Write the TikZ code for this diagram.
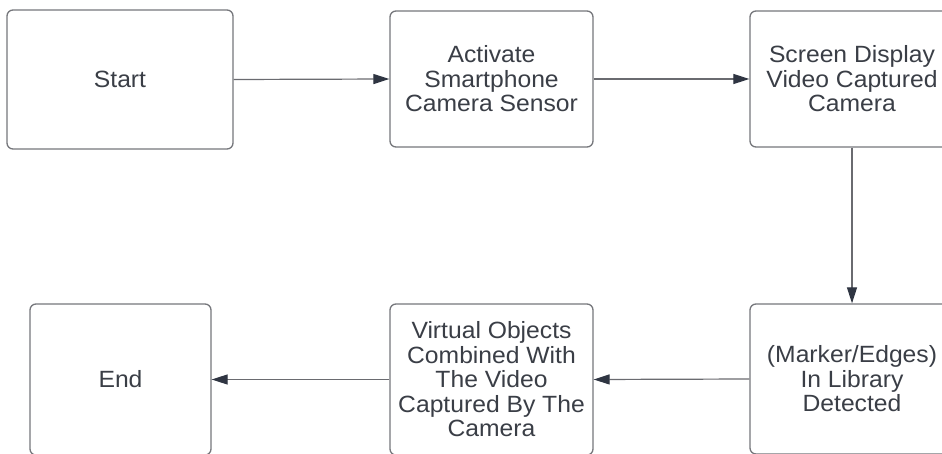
\documentclass[tikz,border=0pt]{standalone}
\usepackage{fontspec}
\setmainfont{Liberation Sans}[FakeStretch=1.05]
\usetikzlibrary{arrows.meta}
\definecolor{boxline}{HTML}{76777C}
\definecolor{linkline}{HTML}{6A6B70}
\definecolor{headfill}{HTML}{2F3542}
\definecolor{txt}{HTML}{3A3E46}
\tikzset{
  stepbox/.style={draw=boxline, line width=1.3pt, rounded corners=6pt, fill=white,
    text=txt, align=center, font=\fontsize{23.5}{24.5}\selectfont,
    inner sep=0pt},
  link/.style={draw=linkline, line width=1.2pt,
    -{Triangle[length=16pt,width=10pt,fill=headfill,color=headfill]}}
}
\begin{document}
\begin{tikzpicture}[x=1pt,y=1pt]
  \useasboundingbox (0,0) rectangle (942,453);
  \fill[white] (0,0) rectangle (942,453);
  \clip (0,0) rectangle (942,453);
  % top row
  \node[stepbox, minimum width=226pt, minimum height=139pt] (start) at (120,373.5) {Start};
  \node[stepbox, minimum width=203pt, minimum height=136pt] (activate) at (491.5,374) {Activate\\Smartphone\\Camera Sensor};
  \node[stepbox, minimum width=204pt, minimum height=136pt] (screen) at (852,374) {Screen Display\\Video Captured\\Camera};
  % bottom row
  \node[stepbox, minimum width=204pt, minimum height=150pt] (marker) at (852,74) {(Marker/Edges)\\In Library\\Detected};
  \node[stepbox, minimum width=203pt, minimum height=151pt] (virtual) at (491.5,73.5) {Virtual Objects\\Combined With\\The Video\\Captured By The\\Camera};
  \node[stepbox, minimum width=181pt, minimum height=151pt] (end) at (120.5,73.5) {End};
  % connectors
  \draw[link] (start.east) -- (activate.west);
  \draw[link] (activate.east) -- (screen.west);
  \draw[link] (screen.south) -- (marker.north);
  \draw[link] (marker.west) -- (virtual.east);
  \draw[link] (virtual.west) -- (end.east);
\end{tikzpicture}
\end{document}
